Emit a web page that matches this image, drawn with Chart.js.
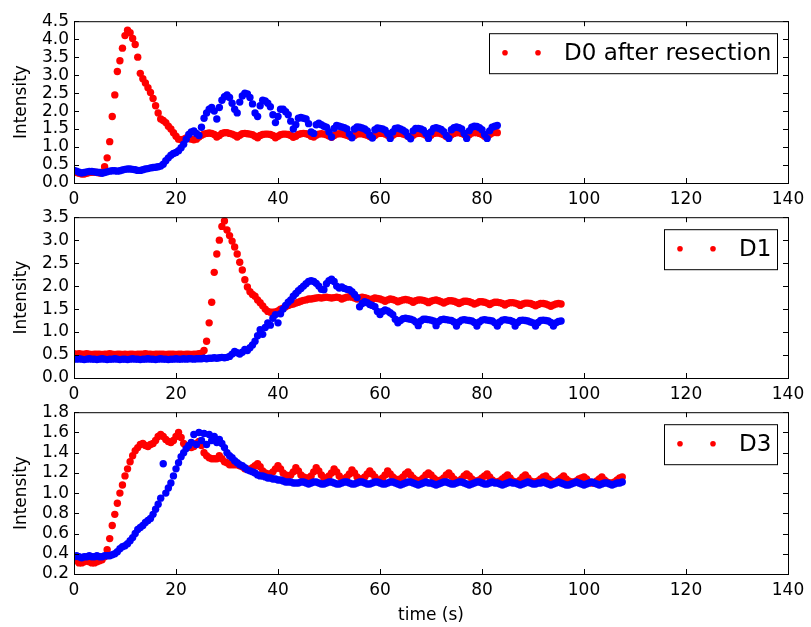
<!DOCTYPE html>
<html>
<head>
<meta charset="utf-8">
<title>Intensity vs time</title>
<script src="https://cdn.jsdelivr.net/npm/chart.js@4.4.1/dist/chart.umd.min.js"></script>
<style>
  html, body { margin: 0; padding: 0; background: #fff; }
  body { width: 811px; height: 627px; position: relative; overflow: hidden; }
  canvas { position: absolute; left: 0; }
</style>
</head>
<body>
<canvas id="chart-d0" width="811" height="207" style="top:6px"></canvas>
<canvas id="chart-d1" width="811" height="206" style="top:202px"></canvas>
<canvas id="chart-d3" width="811" height="230" style="top:397px"></canvas>
<script>
// ===== DATA =====
// one frame every half second (one row = 5 s)
const SAMPLE_STEP = 0.5;

const xTicks = [0, 20, 40, 60, 80, 100, 120, 140];
const d0Ticks = [0, 0.5, 1, 1.5, 2, 2.5, 3, 3.5, 4, 4.5];
const d1Ticks = [0, 0.5, 1, 1.5, 2, 2.5, 3, 3.5];
const d3Ticks = [0.2, 0.4, 0.6, 0.8, 1.0, 1.2, 1.4, 1.6, 1.8];

// D0 after resection, 0 .. 83 s
const d0Red = [
  0.30,0.29,0.27,0.25,0.25,0.27,0.29,0.30,0.30,0.29,
  0.28,0.30,0.45,0.70,1.15,1.85,2.45,3.10,3.40,3.75,
  4.10,4.25,4.18,4.02,3.85,3.50,3.05,2.90,2.78,2.65,
  2.52,2.35,2.15,1.95,1.78,1.74,1.68,1.58,1.50,1.40,
  1.30,1.22,1.20,1.22,1.25,1.24,1.22,1.20,1.22,1.28,
  1.33,1.36,1.38,1.39,1.38,1.35,1.28,1.32,1.38,1.40,
  1.40,1.38,1.36,1.33,1.28,1.33,1.37,1.38,1.37,1.36,
  1.34,1.30,1.26,1.32,1.35,1.36,1.36,1.35,1.32,1.26,
  1.30,1.34,1.36,1.36,1.35,1.32,1.27,1.30,1.35,1.37,
  1.38,1.37,1.35,1.30,1.28,1.33,1.36,1.37,1.36,1.34,
  1.31,1.27,1.32,1.36,1.37,1.37,1.35,1.33,1.30,1.27,
  1.32,1.36,1.37,1.37,1.35,1.33,1.29,1.27,1.32,1.37,
  1.38,1.38,1.36,1.33,1.28,1.33,1.37,1.38,1.38,1.36,
  1.34,1.30,1.27,1.33,1.37,1.38,1.38,1.36,1.33,1.28,
  1.33,1.38,1.39,1.39,1.37,1.34,1.29,1.28,1.34,1.38,
  1.40,1.40,1.38,1.35,1.29,1.34,1.39,1.40,1.40,1.38,
  1.35,1.30,1.28,1.35,1.39,1.41,1.40
];
const d0Blue = [
  0.35,0.33,0.30,0.28,0.29,0.31,0.32,0.32,0.31,0.30,
  0.29,0.27,0.29,0.31,0.33,0.34,0.34,0.33,0.34,0.36,
  0.38,0.39,0.39,0.38,0.37,0.35,0.35,0.37,0.39,0.40,
  0.42,0.43,0.44,0.45,0.47,0.52,0.62,0.70,0.77,0.82,
  0.85,0.90,0.98,1.08,1.22,1.35,1.42,1.45,1.38,1.32,
  1.55,1.80,1.95,2.05,2.10,2.00,1.78,2.10,2.30,2.40,
  2.45,2.38,2.22,2.05,1.95,2.25,2.42,2.50,2.48,2.38,
  2.20,1.95,1.85,2.15,2.30,2.28,2.22,2.12,1.90,1.68,
  1.85,2.05,2.05,1.98,1.90,1.72,1.50,1.62,1.80,1.82,
  1.80,1.78,1.65,1.42,1.38,1.62,1.66,1.62,1.58,1.55,
  1.42,1.28,1.52,1.60,1.58,1.56,1.54,1.50,1.36,1.26,
  1.50,1.56,1.55,1.53,1.50,1.45,1.33,1.25,1.48,1.53,
  1.52,1.50,1.47,1.38,1.24,1.42,1.52,1.53,1.50,1.47,
  1.42,1.30,1.23,1.45,1.52,1.52,1.50,1.47,1.38,1.24,
  1.42,1.52,1.54,1.52,1.49,1.43,1.32,1.24,1.48,1.54,
  1.56,1.54,1.50,1.38,1.24,1.45,1.55,1.58,1.57,1.54,
  1.48,1.35,1.24,1.45,1.55,1.58,1.60
];

// D1, 0 .. 95.5 s
const d1Red = [
  0.53,0.52,0.53,0.52,0.52,0.53,0.52,0.51,0.52,0.52,
  0.52,0.51,0.52,0.52,0.53,0.52,0.51,0.52,0.52,0.51,
  0.52,0.51,0.52,0.52,0.51,0.52,0.52,0.52,0.53,0.52,
  0.52,0.51,0.52,0.52,0.52,0.52,0.51,0.52,0.52,0.52,
  0.51,0.52,0.52,0.51,0.52,0.52,0.51,0.52,0.52,0.53,
  0.54,0.60,0.80,1.20,1.65,2.30,2.70,3.00,3.30,3.42,
  3.22,3.10,2.98,2.85,2.70,2.52,2.35,2.14,1.98,1.88,
  1.82,1.78,1.70,1.64,1.57,1.50,1.45,1.43,1.43,1.44,
  1.46,1.50,1.52,1.55,1.58,1.60,1.61,1.63,1.65,1.67,
  1.69,1.70,1.72,1.72,1.73,1.74,1.75,1.74,1.75,1.76,
  1.75,1.74,1.75,1.76,1.75,1.72,1.74,1.76,1.77,1.76,
  1.74,1.72,1.74,1.76,1.75,1.73,1.70,1.72,1.74,1.73,
  1.72,1.70,1.67,1.70,1.72,1.71,1.69,1.66,1.68,1.70,
  1.71,1.70,1.68,1.65,1.68,1.70,1.70,1.69,1.67,1.64,
  1.67,1.69,1.70,1.68,1.66,1.63,1.66,1.68,1.68,1.67,
  1.65,1.62,1.65,1.67,1.67,1.66,1.64,1.61,1.63,1.66,
  1.66,1.65,1.63,1.60,1.63,1.65,1.65,1.64,1.62,1.59,
  1.62,1.64,1.64,1.63,1.61,1.58,1.61,1.63,1.63,1.62,
  1.60,1.57,1.60,1.62,1.62,1.61,1.59,1.56,1.59,1.61,
  1.62,1.61
];
const d1Blue = [
  0.42,0.41,0.42,0.41,0.40,0.41,0.42,0.41,0.41,0.40,
  0.41,0.42,0.41,0.40,0.41,0.41,0.42,0.41,0.40,0.41,
  0.41,0.40,0.41,0.42,0.41,0.41,0.40,0.41,0.41,0.42,
  0.41,0.41,0.40,0.41,0.42,0.41,0.41,0.40,0.41,0.41,
  0.42,0.41,0.41,0.42,0.41,0.42,0.42,0.41,0.42,0.42,
  0.42,0.43,0.42,0.43,0.43,0.44,0.43,0.44,0.45,0.44,
  0.45,0.47,0.52,0.58,0.55,0.52,0.56,0.62,0.60,0.66,
  0.72,0.80,0.92,1.05,0.95,1.10,1.20,1.15,1.30,1.38,
  1.20,1.40,1.50,1.58,1.65,1.70,1.78,1.84,1.90,1.95,
  2.00,2.05,2.10,2.12,2.10,2.06,2.00,1.93,1.92,2.05,
  2.12,2.15,2.10,2.00,1.96,1.98,1.95,1.93,1.92,1.88,
  1.82,1.75,1.55,1.62,1.66,1.64,1.60,1.58,1.55,1.45,
  1.38,1.45,1.48,1.46,1.42,1.38,1.28,1.20,1.25,1.29,
  1.30,1.29,1.28,1.26,1.22,1.14,1.24,1.28,1.28,1.27,
  1.26,1.24,1.14,1.23,1.27,1.28,1.27,1.26,1.25,1.22,
  1.13,1.22,1.26,1.27,1.26,1.25,1.24,1.21,1.13,1.22,
  1.26,1.27,1.26,1.25,1.24,1.20,1.13,1.22,1.26,1.27,
  1.26,1.25,1.23,1.13,1.21,1.25,1.26,1.25,1.24,1.22,
  1.20,1.13,1.21,1.25,1.26,1.25,1.24,1.21,1.13,1.20,
  1.23,1.24
];

// D3, 0 .. 107.5 s
const d3Red = [
  0.34,0.33,0.31,0.31,0.32,0.33,0.32,0.31,0.31,0.32,
  0.33,0.34,0.37,0.44,0.55,0.68,0.79,0.90,1.00,1.08,
  1.17,1.24,1.31,1.37,1.42,1.45,1.48,1.49,1.47,1.46,
  1.48,1.49,1.52,1.56,1.58,1.56,1.53,1.51,1.50,1.52,
  1.56,1.60,1.55,1.49,1.46,1.46,1.45,1.46,1.49,1.51,
  1.47,1.40,1.37,1.35,1.34,1.34,1.34,1.37,1.34,1.31,
  1.30,1.28,1.28,1.28,1.28,1.27,1.26,1.24,1.24,1.23,
  1.25,1.27,1.29,1.26,1.22,1.20,1.19,1.19,1.21,1.24,
  1.27,1.24,1.20,1.18,1.17,1.18,1.21,1.25,1.22,1.18,
  1.16,1.15,1.15,1.17,1.21,1.25,1.22,1.18,1.15,1.15,
  1.17,1.20,1.24,1.21,1.17,1.14,1.14,1.16,1.19,1.23,
  1.20,1.16,1.14,1.14,1.16,1.19,1.22,1.19,1.16,1.13,
  1.13,1.15,1.18,1.22,1.19,1.16,1.14,1.13,1.14,1.16,
  1.19,1.21,1.18,1.15,1.13,1.12,1.13,1.15,1.18,1.20,
  1.18,1.15,1.13,1.12,1.13,1.15,1.18,1.20,1.17,1.14,
  1.12,1.12,1.14,1.17,1.19,1.17,1.14,1.12,1.12,1.13,
  1.15,1.17,1.19,1.16,1.13,1.11,1.11,1.12,1.14,1.16,
  1.18,1.15,1.12,1.11,1.11,1.13,1.16,1.18,1.15,1.12,
  1.11,1.11,1.12,1.14,1.16,1.17,1.14,1.12,1.11,1.11,
  1.13,1.15,1.17,1.14,1.12,1.11,1.11,1.12,1.14,1.15,
  1.16,1.14,1.11,1.10,1.10,1.12,1.14,1.16,1.13,1.11,
  1.10,1.10,1.11,1.13,1.15,1.16
];
const d3Blue = [
  0.37,0.38,0.37,0.36,0.37,0.37,0.38,0.37,0.37,0.38,
  0.37,0.37,0.38,0.38,0.38,0.39,0.40,0.42,0.45,0.47,
  0.48,0.50,0.53,0.56,0.60,0.64,0.66,0.68,0.71,0.73,
  0.75,0.79,0.84,0.89,0.95,1.29,1.00,1.05,1.10,1.17,
  1.24,1.30,1.36,1.40,1.44,1.47,1.50,1.58,1.48,1.60,
  1.52,1.59,1.48,1.58,1.52,1.56,1.50,1.53,1.49,1.45,
  1.40,1.37,1.35,1.32,1.30,1.28,1.27,1.25,1.23,1.22,
  1.21,1.20,1.18,1.17,1.17,1.16,1.15,1.15,1.14,1.14,
  1.13,1.13,1.12,1.11,1.11,1.11,1.10,1.10,1.10,1.11,
  1.11,1.10,1.09,1.10,1.11,1.11,1.10,1.09,1.09,1.10,
  1.11,1.11,1.10,1.09,1.09,1.10,1.11,1.11,1.10,1.09,
  1.09,1.10,1.11,1.11,1.10,1.09,1.09,1.10,1.11,1.11,
  1.10,1.09,1.09,1.10,1.11,1.11,1.10,1.09,1.08,1.09,
  1.10,1.11,1.11,1.10,1.09,1.08,1.09,1.10,1.11,1.10,
  1.10,1.09,1.08,1.09,1.10,1.11,1.11,1.10,1.09,1.09,
  1.10,1.11,1.11,1.10,1.09,1.08,1.09,1.10,1.11,1.11,
  1.10,1.09,1.09,1.10,1.11,1.10,1.10,1.09,1.08,1.09,
  1.10,1.11,1.10,1.10,1.09,1.08,1.09,1.10,1.11,1.10,
  1.09,1.09,1.10,1.10,1.11,1.10,1.09,1.08,1.09,1.10,
  1.11,1.10,1.09,1.08,1.08,1.09,1.10,1.11,1.10,1.09,
  1.08,1.09,1.10,1.11,1.10,1.09,1.08,1.09,1.10,1.10,
  1.09,1.08,1.09,1.10,1.10,1.11
];

// ===== STYLE =====
const FONT_FAMILY = 'DejaVu Sans';
const TICK_FONT = { family: FONT_FAMILY, size: 17 };
const TICK_LEN = 5;
const RED = '#ff0000';
const BLUE = '#0000ff';

Chart.defaults.font.family = FONT_FAMILY;
Chart.defaults.color = '#000';

function toPoints(values) {
  return values.map((v, i) => ({ x: i * SAMPLE_STEP, y: v }));
}

// inward tick marks on all four sides plus the black frame
const frameTicks = {
  id: 'frameTicks',
  afterDatasetsDraw(chart) {
    const { ctx, chartArea: a, scales: { x, y } } = chart;
    ctx.save();
    ctx.strokeStyle = '#000';
    ctx.lineWidth = 1;
    ctx.beginPath();
    x.ticks.forEach(t => {
      const px = Math.round(x.getPixelForValue(t.value)) + 0.5;
      ctx.moveTo(px, a.bottom); ctx.lineTo(px, a.bottom - TICK_LEN);
      ctx.moveTo(px, a.top); ctx.lineTo(px, a.top + TICK_LEN);
    });
    y.ticks.forEach(t => {
      const py = Math.round(y.getPixelForValue(t.value)) + 0.5;
      ctx.moveTo(a.left, py); ctx.lineTo(a.left + TICK_LEN, py);
      ctx.moveTo(a.right, py); ctx.lineTo(a.right - TICK_LEN, py);
    });
    ctx.stroke();
    ctx.strokeRect(a.left + 0.5, a.top + 0.5, a.right - a.left, a.bottom - a.top);
    ctx.restore();
  }
};

// matplotlib-like legend: framed box, two markers, label
const legendBox = {
  id: 'legendBox',
  afterDraw(chart, args, opts) {
    const { ctx, chartArea } = chart;
    ctx.save();
    ctx.font = `23px "${FONT_FAMILY}"`;
    const w = Math.round(75 + ctx.measureText(opts.text).width + 6);
    const right = chartArea.right - 11;
    const left = right - w;
    const top = chartArea.top + 12;
    ctx.fillStyle = '#fff';
    ctx.fillRect(left, top, w, 40);
    ctx.strokeStyle = '#000';
    ctx.lineWidth = 1;
    ctx.strokeRect(left + 0.5, top + 0.5, w, 40);
    ctx.fillStyle = opts.color;
    [16, 49].forEach(dx => {
      ctx.beginPath();
      ctx.arc(left + dx, top + 19.5, 2.8, 0, Math.PI * 2);
      ctx.fill();
    });
    ctx.fillStyle = '#000';
    ctx.textBaseline = 'alphabetic';
    ctx.fillText(opts.text, left + 75, top + 27);
    ctx.restore();
  }
};

function makePanel(id, label, red, blue, yTicks, xScaleHeight, xTitle) {
  return new Chart(document.getElementById(id), {
    type: 'scatter',
    data: {
      datasets: [
        { label, data: toPoints(red), backgroundColor: RED, borderWidth: 0, pointRadius: 3.7, order: 1, clip: 0 },
        { label: '', data: toPoints(blue), backgroundColor: BLUE, borderWidth: 0, pointRadius: 3.7, order: 0, clip: 0 },
      ],
    },
    options: {
      responsive: false,
      animation: false,
      devicePixelRatio: 1,
      layout: { padding: { top: 14, right: 23, left: 0, bottom: 0 } },
      plugins: {
        legend: { display: false },
        tooltip: { enabled: false },
        legendBox: { text: label, color: RED },
      },
      scales: {
        x: {
          type: 'linear', min: 0, max: 140,
          afterBuildTicks: s => { s.ticks = xTicks.map(v => ({ value: v })); },
          afterFit: s => { s.height = xScaleHeight; },
          grid: { display: false, drawTicks: false },
          border: { display: false },
          ticks: { font: TICK_FONT, color: '#000', padding: 6, maxRotation: 0, autoSkip: false, callback: v => String(v) },
          title: { display: !!xTitle, text: xTitle || '', font: TICK_FONT, color: '#000', padding: { top: 0, bottom: 1 } },
        },
        y: {
          type: 'linear', min: yTicks[0], max: yTicks[yTicks.length - 1],
          afterBuildTicks: s => { s.ticks = yTicks.map(v => ({ value: v })); },
          afterFit: s => { s.width = 74; },
          grid: { display: false, drawTicks: false },
          border: { display: false },
          ticks: { font: TICK_FONT, color: '#000', padding: 5, autoSkip: false, callback: v => v.toFixed(1) },
          title: { display: true, text: 'Intensity', font: TICK_FONT, color: '#000', padding: { top: 11.5, bottom: 0 } },
        },
      },
    },
    plugins: [frameTicks, legendBox],
  });
}

// ===== BOOT =====
makePanel('chart-d0', 'D0 after resection', d0Red, d0Blue, d0Ticks, 30);
makePanel('chart-d1', 'D1', d1Red, d1Blue, d1Ticks, 30);
makePanel('chart-d3', 'D3', d3Red, d3Blue, d3Ticks, 53, 'time (s)');
</script>
</body>
</html>
